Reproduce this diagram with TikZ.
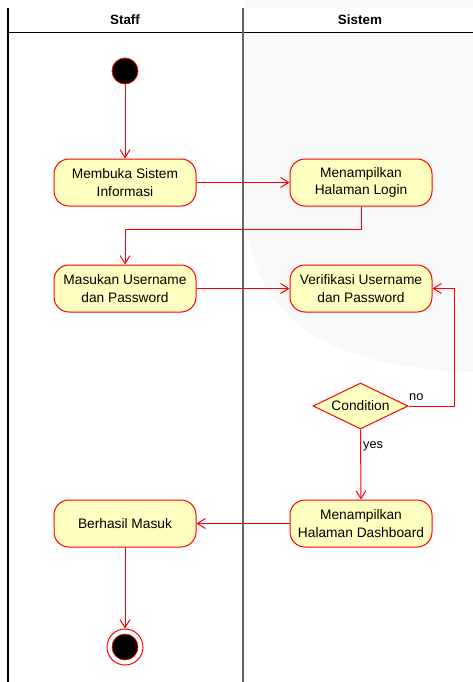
\documentclass[tikz,border=0pt]{standalone}
\usepackage{fontspec}
\setmainfont{Liberation Sans}
\usetikzlibrary{arrows.meta,shapes.geometric}
\definecolor{actfill}{HTML}{FFFFC0}
\definecolor{actred}{HTML}{FF0000}
\definecolor{lanegray}{HTML}{666666}
\definecolor{bggray}{HTML}{F8F8F8}
\begin{document}
\begin{tikzpicture}[x=1bp,y=-1bp,
  act/.style={draw=actred, fill=actfill, rounded corners=15bp, minimum width=142bp,
    minimum height=47bp, inner sep=0pt, align=center, line width=1bp,
    font=\fontsize{13.8}{17.5}\selectfont},
  decision/.style={diamond, draw=actred, fill=actfill, minimum width=95bp,
    minimum height=46bp, inner sep=0pt, aspect=2.07, line width=1bp,
    font=\fontsize{13.8}{17.5}\selectfont},
  flow/.style={draw=actred, line width=1bp, -{Straight Barb[length=8bp,width=10bp]}},
  lbl/.style={font=\fontsize{12.8}{15}\selectfont, inner sep=0pt, anchor=base west},
  hdr/.style={font=\fontsize{13.5}{16}\selectfont\bfseries, inner sep=0pt},
  startst/.style={circle, fill=black, draw=actred, line width=0.8bp, minimum size=26bp, inner sep=0pt},
  endouter/.style={circle, fill=white, draw=actred, line width=1bp, minimum size=36bp, inner sep=0pt},
  endinner/.style={circle, fill=black, draw=actred, line width=0.6bp, minimum size=26bp, inner sep=0pt}]
\useasboundingbox (0,0) rectangle (473,682);
% faint background
\fill[bggray] (243,0) -- (473,0) -- (473,372) .. controls (330,368) and (245,320) .. (245,200) -- (245,0) -- cycle;
\fill[white] (244,8) rectangle (473,33);
% swimlanes
\draw[black, line width=1.3bp] (8,8) -- (8,682);
\draw[black, line width=1bp] (8,33) -- (473,33);
\draw[lanegray, line width=1.7bp] (243,8) -- (243,682);
\node[hdr] (hstaff) at (125,20) {Staff};
\node[hdr] (hsistem) at (360,20) {Sistem};
% nodes
\node[startst] (start) at (125,71) {};
\node[act] (buka) at (125,182.5) {Membuka Sistem\\Informasi};
\node[act] (login) at (361,182.5) {Menampilkan\\Halaman Login};
\node[act] (masuk) at (125,288.5) {Masukan Username\\dan Password};
\node[act] (verif) at (361,288.5) {Verifikasi Username\\dan Password};
\node[decision] (cond) at (360.5,406) {Condition};
\node[act] (dash) at (361,523.5) {Menampilkan\\Halaman Dashboard};
\node[act] (berhasil) at (125,523.5) {Berhasil Masuk};
\node[endouter] (endst) at (125,647) {};
\node[endinner] (endin) at (125,647) {};
\coordinate (b1) at (361,229);
\coordinate (b2) at (454,406);
% flows
\draw[flow] (start) -- (buka);
\draw[flow] (buka.east) -- (login.west);
\draw[flow] (login.south) -- (b1) -| (masuk.north);
\draw[flow] (masuk.east) -- (verif.west);
\draw[flow] (cond.east) -- (b2) |- (verif.east);
\draw[flow] (cond.south) -- (dash.north);
\draw[flow] (dash.west) -- (berhasil.east);
\draw[flow] (berhasil.south) -- (endst.north);
\node[lbl] (lno) at (409,400) {no};
\node[lbl] (lyes) at (363,448) {yes};
\end{tikzpicture}
\end{document}
